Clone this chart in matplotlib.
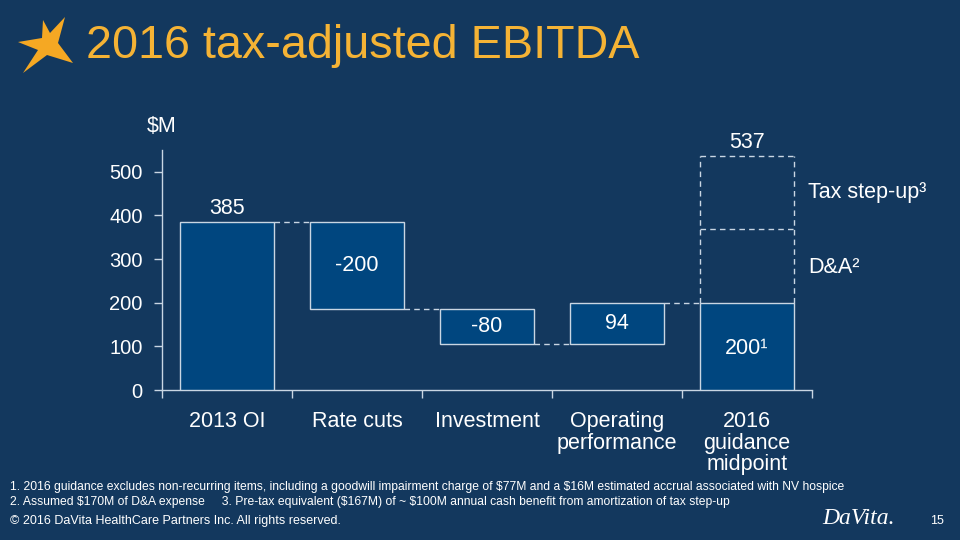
import matplotlib
matplotlib.use("Agg")
import matplotlib.pyplot as plt
import numpy as np
from matplotlib.patches import Polygon

# ---- data ----
categories = ['2013 OI', 'Rate cuts', 'Investment', 'Operating\nperformance', '2016\nguidance\nmidpoint']
start_value = 385
deltas = [-200, -80, 94]
guidance = 200
da_value = 170
tax_stepup = 167
value_labels = ['385', '-200', '-80', '94', '200¹']
top_label = '537'
yticks = [0, 100, 200, 300, 400, 500]

BG = '#13385E'
BAR = '#00467F'
EDGE = '#C9D6E3'
ORANGE = '#F5B335'
WHITE = '#FFFFFF'
FONT = 'Liberation Sans'

plt.rcParams['font.family'] = [FONT, 'DejaVu Sans']

fig = plt.figure(figsize=(9.6, 5.4), dpi=100)
fig.patch.set_facecolor(BG)

def fx(px):
    return px / 960.0

def fy(py):
    return 1 - py / 540.0

ax = fig.add_axes([fx(162), fy(390), fx(812) - fx(162), fy(150) - fy(390)])
ax.set_facecolor(BG)

x = np.arange(len(categories))
w = 0.72

# waterfall levels
levels = [start_value]
for d in deltas:
    levels.append(levels[-1] + d)

bottoms = [0]
heights = [start_value]
for i, d in enumerate(deltas):
    lo = min(levels[i], levels[i + 1])
    bottoms.append(lo)
    heights.append(abs(d))
bottoms.append(0)
heights.append(guidance)

ax.bar(x, heights, bottom=bottoms, width=w, color=BAR, edgecolor=EDGE, linewidth=1.0, zorder=3)

DASH = (0, (4, 3))
# connectors between consecutive bars
for i in range(len(categories) - 1):
    yv = levels[i]
    ax.plot([x[i] + w / 2, x[i + 1] - w / 2], [yv, yv], color=EDGE, lw=1.0, ls=DASH, zorder=2)

# dashed stacked boxes on guidance
xi = x[-1]
top_da = guidance + da_value
top_all = top_da + tax_stepup
for xe in (xi - w / 2, xi + w / 2):
    ax.plot([xe, xe], [guidance, top_all], color=EDGE, lw=1.0, ls=DASH, zorder=2)
for ye in (top_da, top_all):
    ax.plot([xi - w / 2, xi + w / 2], [ye, ye], color=EDGE, lw=1.0, ls=DASH, zorder=2)

# value labels
fs = 15.5
ax.text(x[0], start_value + 7, value_labels[0], ha='center', va='bottom', color=WHITE, fontsize=fs)
for i in range(1, 4):
    ax.text(x[i], bottoms[i] + heights[i] / 2, value_labels[i], ha='center', va='center',
            color=WHITE, fontsize=fs)
ax.text(x[4], guidance * 0.47, value_labels[4], ha='center', va='center', color=WHITE, fontsize=fs)
ax.text(x[4], top_all + 7, top_label, ha='center', va='bottom', color=WHITE, fontsize=fs)

ax.text(x[4] + w / 2 + 0.11, (top_da + top_all) / 2, 'Tax step-up³', ha='left', va='center',
        color=WHITE, fontsize=fs)
ax.text(x[4] + w / 2 + 0.11, (guidance + top_da) / 2 - 5, 'D&A²', ha='left', va='center',
        color=WHITE, fontsize=fs)

ax.set_xlim(-0.5, len(categories) - 0.5)
ax.set_ylim(0, 550)
ax.set_yticks(yticks)
ax.set_yticklabels([str(v) for v in yticks])
ax.set_xticks(x)
ax.set_xticklabels(categories)
ax.set_xticks(np.arange(-0.5, len(categories), 1.0), minor=True)
ax.tick_params(axis='x', which='major', length=0, pad=15, colors=WHITE, labelsize=fs)
ax.tick_params(axis='x', which='minor', length=6, width=1, color=EDGE, direction='out')
ax.tick_params(axis='y', length=6, width=1, color=EDGE, pad=8, labelcolor=WHITE, labelsize=14.5)
for lab in ax.get_xticklabels():
    lab.set_linespacing(1.05)
for s in ['top', 'right']:
    ax.spines[s].set_visible(False)
for s in ['left', 'bottom']:
    ax.spines[s].set_color(EDGE)
    ax.spines[s].set_linewidth(1.0)

# $M unit
fig.text(fx(147), fy(126), '$M', ha='left', va='center', color=WHITE, fontsize=fs)

# title
fig.text(fx(86), fy(46), '2016 tax-adjusted EBITDA', ha='left', va='center', color=ORANGE,
         fontsize=33.7)

# star logo
star = [(43, 20), (50, 33), (65, 17), (58, 43), (73, 63), (47, 55), (23, 73), (38, 50), (18, 42), (42, 38)]
fig.patches.append(Polygon([(fx(px), fy(py)) for px, py in star], closed=True,
                           transform=fig.transFigure, facecolor='#F5A823',
                           edgecolor='none', figure=fig))

# footnotes
fn = 8.7
fig.text(fx(10), fy(487), '1. 2016 guidance excludes non-recurring items, including a goodwill impairment charge of \\$77M and a \\$16M estimated accrual associated with NV hospice',
         ha='left', va='center', color=WHITE, fontsize=fn)
fig.text(fx(10), fy(502), '2. Assumed \\$170M of D&A expense     3. Pre-tax equivalent (\\$167M) of ~ \\$100M annual cash benefit from amortization of tax step-up',
         ha='left', va='center', color=WHITE, fontsize=fn)
fig.text(fx(10), fy(521), '© 2016 DaVita HealthCare Partners Inc. All rights reserved.',
         ha='left', va='center', color=WHITE, fontsize=9)
fig.text(fx(930), fy(521), '15', ha='left', va='center', color=WHITE, fontsize=9)
fig.text(fx(822), fy(518), 'DaVita.', ha='left', va='center', color=WHITE, fontsize=17,
         family='Liberation Serif', style='italic')

fig.savefig('out.png', dpi=100, facecolor=BG)
